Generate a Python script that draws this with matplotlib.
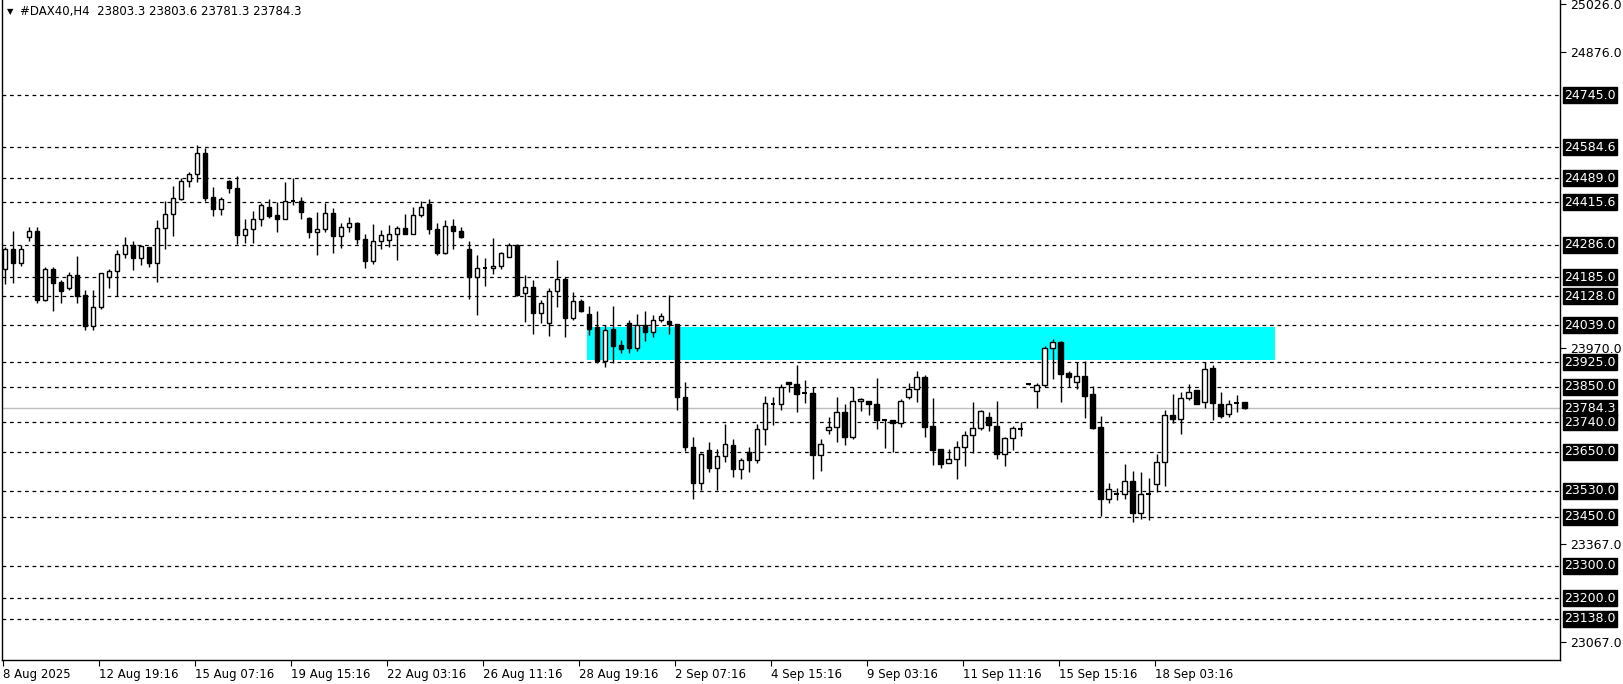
import numpy as np
import matplotlib
matplotlib.use("Agg")
import matplotlib.pyplot as plt

# H4 candles (open, high, low, close)
opens = [24210, 24272, 24228, 24308, 24327, 24116, 24210, 24170, 24153, 24194,
         24130, 24037, 24093, 24185, 24204, 24256, 24285, 24246, 24278, 24230,
         24336, 24379, 24427, 24482, 24502, 24566, 24431, 24394, 24481, 24461,
         24316, 24333, 24366, 24400, 24377, 24365, 24418, 24419, 24369, 24326,
         24333, 24382, 24313, 24339, 24351, 24304, 24237, 24298, 24300, 24320,
         24336, 24318, 24378, 24410, 24333, 24261, 24343, 24329, 24271, 24185,
         24215, 24213, 24221, 24247, 24285, 24136, 24157, 24077, 24046, 24144,
         24179, 24062, 24112, 24072, 24032, 23930, 24026, 23977, 24044, 23969,
         24040, 24017, 24054, 24050, 24041, 23817, 23664, 23553, 23654, 23599,
         23636, 23670, 23596, 23649, 23624, 23719, 23797, 23796, 23863, 23857,
         23829, 23829, 23639, 23717, 23725, 23771, 23694, 23805, 23805, 23796,
         23748, 23746, 23737, 23817, 23842, 23878, 23729, 23657, 23616, 23627,
         23664, 23700, 23723, 23756, 23729, 23642, 23691, 23722, 23857, 23836,
         23856, 23967, 23986, 23891, 23863, 23882, 23826, 23726, 23504, 23521,
         23519, 23559, 23461, 23521, 23550, 23617, 23762, 23750, 23814, 23839,
         23802, 23906, 23796, 23765, 23801, 23803.3]
highs = [24280, 24328, 24285, 24341, 24339, 24218, 24218, 24177, 24203, 24251,
         24146, 24146, 24200, 24210, 24269, 24310, 24297, 24285, 24278, 24361,
         24420, 24467, 24489, 24508, 24592, 24584, 24462, 24433, 24484, 24497,
         24366, 24389, 24415, 24425, 24418, 24478, 24492, 24431, 24370, 24385,
         24415, 24397, 24351, 24370, 24356, 24320, 24349, 24331, 24345, 24343,
         24380, 24400, 24420, 24425, 24351, 24361, 24365, 24339, 24296, 24254,
         24244, 24305, 24263, 24290, 24288, 24193, 24177, 24116, 24152, 24239,
         24185, 24139, 24118, 24097, 24083, 24039, 24097, 23993, 24054, 24073,
         24082, 24069, 24075, 24130, 24041, 23864, 23696, 23645, 23679, 23658,
         23734, 23688, 23631, 23665, 23734, 23822, 23819, 23858, 23863, 23916,
         23870, 23850, 23688, 23756, 23817, 23797, 23850, 23815, 23805, 23876,
         23748, 23746, 23811, 23860, 23898, 23885, 23814, 23657, 23657, 23683,
         23713, 23803, 23778, 23771, 23806, 23696, 23729, 23740, 23860, 23860,
         23975, 23996, 23989, 23898, 23925, 23928, 23851, 23760, 23554, 23538,
         23612, 23592, 23587, 23570, 23642, 23778, 23827, 23832, 23857, 23841,
         23925, 23916, 23832, 23809, 23824, 23803.6]
lows = [24165, 24169, 24221, 24298, 24106, 24114, 24083, 24108, 24148, 24108,
        24024, 24024, 24088, 24154, 24129, 24246, 24208, 24223, 24218, 24172,
        24274, 24312, 24423, 24464, 24479, 24421, 24374, 24377, 24445, 24288,
        24292, 24292, 24344, 24369, 24325, 24365, 24409, 24364, 24307, 24255,
        24326, 24261, 24277, 24326, 24288, 24215, 24226, 24271, 24279, 24239,
        24318, 24318, 24370, 24318, 24255, 24257, 24271, 24306, 24120, 24070,
        24160, 24196, 24211, 24247, 24128, 24049, 24013, 24046, 24006, 24093,
        24003, 24054, 24078, 24008, 23923, 23909, 23924, 23954, 23954, 23960,
        23991, 24003, 24048, 24013, 23778, 23653, 23504, 23533, 23589, 23533,
        23620, 23573, 23565, 23587, 23614, 23670, 23731, 23778, 23833, 23773,
        23801, 23565, 23592, 23704, 23681, 23672, 23688, 23776, 23762, 23719,
        23663, 23649, 23727, 23811, 23804, 23696, 23610, 23599, 23614, 23567,
        23607, 23647, 23717, 23715, 23629, 23607, 23655, 23699, 23854, 23785,
        23850, 23874, 23804, 23850, 23842, 23755, 23719, 23453, 23493, 23502,
        23505, 23435, 23443, 23440, 23527, 23546, 23739, 23704, 23808, 23798,
        23785, 23747, 23753, 23756, 23773, 23781.3]
closes = [24272, 24228, 24274, 24327, 24116, 24210, 24169, 24144, 24194, 24128,
          24037, 24093, 24198, 24204, 24256, 24285, 24246, 24282, 24230, 24336,
          24379, 24428, 24482, 24502, 24566, 24430, 24394, 24425, 24461, 24316,
          24333, 24366, 24407, 24375, 24365, 24419, 24420, 24387, 24326, 24333,
          24382, 24313, 24339, 24351, 24304, 24237, 24298, 24316, 24320, 24336,
          24318, 24378, 24400, 24333, 24261, 24343, 24329, 24310, 24185, 24215,
          24214, 24221, 24259, 24285, 24131, 24157, 24077, 24106, 24144, 24179,
          24062, 24112, 24083, 24028, 23930, 24024, 23976, 23966, 23969, 24040,
          24017, 24054, 24066, 24041, 23817, 23664, 23553, 23642, 23599, 23636,
          23673, 23596, 23624, 23624, 23719, 23799, 23796, 23848, 23857, 23828,
          23829, 23639, 23673, 23725, 23771, 23694, 23805, 23811, 23796, 23749,
          23747, 23737, 23805, 23842, 23878, 23727, 23656, 23613, 23627, 23664,
          23700, 23723, 23775, 23731, 23642, 23691, 23723, 23721, 23857, 23856,
          23967, 23986, 23890, 23880, 23882, 23822, 23724, 23504, 23537, 23521,
          23559, 23461, 23519, 23521, 23617, 23762, 23750, 23814, 23832, 23798,
          23903, 23799, 23761, 23796, 23800, 23784.3]

levels = [24745.0, 24584.6, 24489.0, 24415.6, 24286.0, 24185.0, 24128.0, 24039.0,
          23925.0, 23850.0, 23740.0, 23650.0, 23530.0, 23450.0, 23300.0, 23200.0, 23138.0]
plain_ticks = [25026.0, 24876.0, 23970.0, 23367.0, 23067.0]
last_price = 23784.3
zone = (23932, 24032)          # cyan supply zone (low, high)
zone_span = (72.75, 158.75)    # in candle index units

date_labels = ["8 Aug 2025", "12 Aug 19:16", "15 Aug 07:16", "19 Aug 15:16",
               "22 Aug 03:16", "26 Aug 11:16", "28 Aug 19:16", "2 Sep 07:16",
               "4 Sep 15:16", "9 Sep 03:16", "11 Sep 11:16", "15 Sep 15:16",
               "18 Sep 03:16"]

W, H = 1624, 684
fig = plt.figure(figsize=(W / 100, H / 100), dpi=100)
ax = fig.add_axes([2 / W, 1 - 660 / H, (1560 - 2) / W, 660 / H])

n = len(closes)
x = np.arange(n)
ax.set_xlim(-0.375, 194.4)
ax.set_ylim(23010.6, 25037.0)

ax.axhspan(zone[0], zone[1], xmin=(zone_span[0] + 0.375) / 194.775,
           xmax=(zone_span[1] + 0.375) / 194.775, color="#00ffff", lw=0, zorder=1)

for lv in levels:
    ax.axhline(lv, color="black", lw=0.9, ls=(0, (3, 3)), zorder=2)
ax.axhline(last_price, color="#c0c0c0", lw=1, zorder=2)

bw = 0.6
for i in range(n):
    o, h, l, c = opens[i], highs[i], lows[i], closes[i]
    ax.vlines(x[i], l, h, color="black", lw=1, zorder=3)
    lo, hi = min(o, c), max(o, c)
    if hi - lo < 3:
        ax.hlines(c, x[i] - bw / 2, x[i] + bw / 2, color="black", lw=1.5, zorder=4)
        continue
    fc = "white" if c > o else "black"
    ax.bar(x[i], hi - lo, bottom=lo, width=bw, facecolor=fc,
           edgecolor="black", lw=1, zorder=4)

ax.spines["top"].set_visible(False)
for s in ["left", "right", "bottom"]:
    ax.spines[s].set_linewidth(1)

ax.yaxis.tick_right()
ax.set_yticks(plain_ticks)
ax.set_yticklabels([f"{v:.1f}" for v in plain_ticks])
ax.tick_params(axis="y", direction="out", length=4, pad=3, labelsize=9)

for lv in levels + [last_price]:
    ax.annotate(f"{lv:.1f}", xy=(1, lv), xycoords=("axes fraction", "data"),
                xytext=(3, 0), textcoords="offset points", va="center", ha="left",
                fontsize=9, color="white",
                bbox=dict(boxstyle="square,pad=0.12", fc="black", ec="black"))

ticks_x = [12 * k - 0.2 for k in range(len(date_labels))]
ax.set_xticks(ticks_x)
ax.set_xticklabels(date_labels, ha="left")
ax.tick_params(axis="x", direction="out", length=4, pad=2, labelsize=8.5)

fig.text(7 / W, 1 - 12 / H, "\u25bc", fontsize=6, va="center", ha="left")
fig.text(20 / W, 1 - 12 / H, "#DAX40,H4  23803.3 23803.6 23781.3 23784.3",
         fontsize=8.5, va="center", ha="left")

fig.savefig("out.png", dpi=100)
